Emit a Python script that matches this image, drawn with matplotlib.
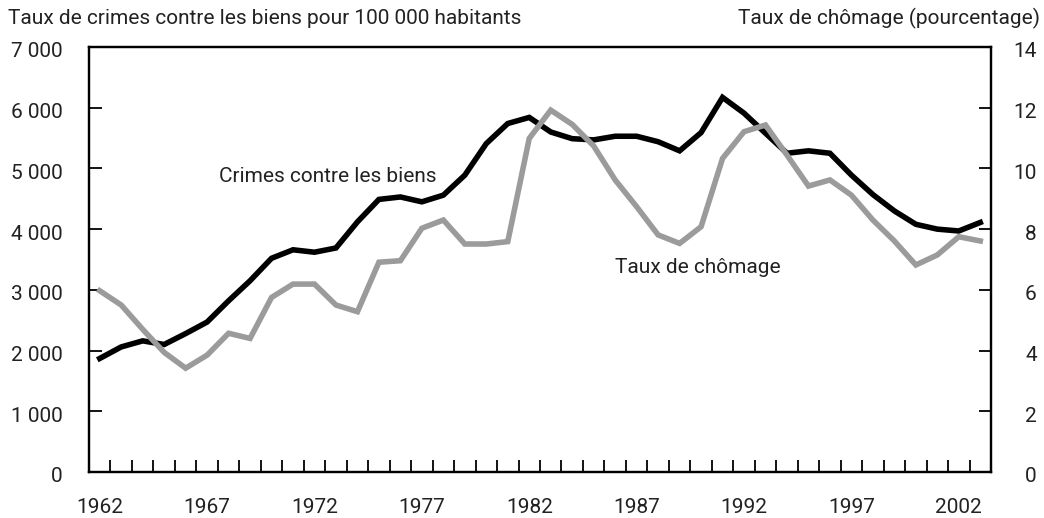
import numpy as np
import matplotlib
matplotlib.use("Agg")
import matplotlib.pyplot as plt
import matplotlib.transforms as mtransforms
from matplotlib.ticker import FuncFormatter, MultipleLocator

plt.rcParams['font.family'] = ['Roboto', 'DejaVu Sans']

# Données
annees = np.arange(1962, 2004)
crimes = [1870, 2060, 2160, 2100, 2280, 2470, 2820, 3150, 3520, 3660,
          3620, 3690, 4120, 4490, 4530, 4450, 4560, 4890, 5410, 5740,
          5840, 5600, 5490, 5470, 5530, 5530, 5440, 5290, 5590, 6170,
          5910, 5580, 5250, 5290, 5250, 4890, 4570, 4300, 4080, 4000,
          3970, 4110]
chomage = [5.97, 5.50, 4.70, 3.94, 3.42, 3.85, 4.57, 4.40, 5.75, 6.19,
           6.19, 5.50, 5.28, 6.91, 6.96, 8.03, 8.30, 7.51, 7.51, 7.59,
           10.99, 11.92, 11.45, 10.74, 9.62, 8.74, 7.81, 7.53, 8.08, 10.33,
           11.21, 11.43, 10.44, 9.42, 9.62, 9.12, 8.30, 7.61, 6.82, 7.15,
           7.75, 7.61]
annees_etiq = list(range(1962, 2003, 5))

fs = 15
gris_texte = "#222222"

fig = plt.figure(figsize=(10.44, 5.18), dpi=100)
ax = fig.add_axes([89 / 1044, 46 / 518, 902 / 1044, 425 / 518])
ax2 = ax.twinx()

ax.plot(annees, crimes, color="black", lw=4.0, solid_joinstyle="miter", zorder=3)
ax2.plot(annees, chomage, color="#9b9b9b", lw=4.0, solid_joinstyle="miter", zorder=2)

ax.set_xlim(1961.5, 2003.5)
ax.set_ylim(0, 7000)
ax2.set_ylim(0, 14)

ax.set_xticks(annees_etiq)
ax.set_xticks(np.arange(1962.5, 2003, 1), minor=True)
ax.tick_params(axis="x", which="major", length=0, pad=19, labelsize=fs,
               labelcolor=gris_texte)
ax.tick_params(axis="x", which="minor", direction="in", length=9, width=1.3)

ax.yaxis.set_major_locator(MultipleLocator(1000))
ax.yaxis.set_major_formatter(FuncFormatter(lambda v, p: f"{int(v):,}".replace(",", " ")))
ax.tick_params(axis="y", direction="in", length=9, width=1.3, pad=19, labelsize=fs,
               labelcolor=gris_texte)

ax2.yaxis.set_major_locator(MultipleLocator(2))
ax2.tick_params(axis="y", direction="in", length=9, width=1.3, pad=33, labelsize=fs,
                labelcolor=gris_texte)
for lab in ax2.get_yticklabels():
    lab.set_horizontalalignment("right")

off = mtransforms.ScaledTranslation(0, -3 / 100, fig.dpi_scale_trans)
for lab in ax.get_yticklabels() + ax2.get_yticklabels():
    lab.set_transform(lab.get_transform() + off)

for a in (ax, ax2):
    for s in a.spines.values():
        s.set_linewidth(1.6)

fig.text(8 / 1044, 1 - 18 / 518, "Taux de crimes contre les biens pour 100 000 habitants",
         fontsize=fs, va="center", ha="left", color=gris_texte)
fig.text(1040 / 1044, 1 - 18 / 518, "Taux de chômage (pourcentage)",
         fontsize=fs, va="center", ha="right", color=gris_texte)

ax.text(1977.7, 4860, "Crimes contre les biens", fontsize=fs, ha="right",
        va="center", color=gris_texte)
ax2.text(1986.0, 6.72, "Taux de chômage", fontsize=fs, ha="left",
         va="center", color=gris_texte)

fig.savefig("out.png", dpi=100)
